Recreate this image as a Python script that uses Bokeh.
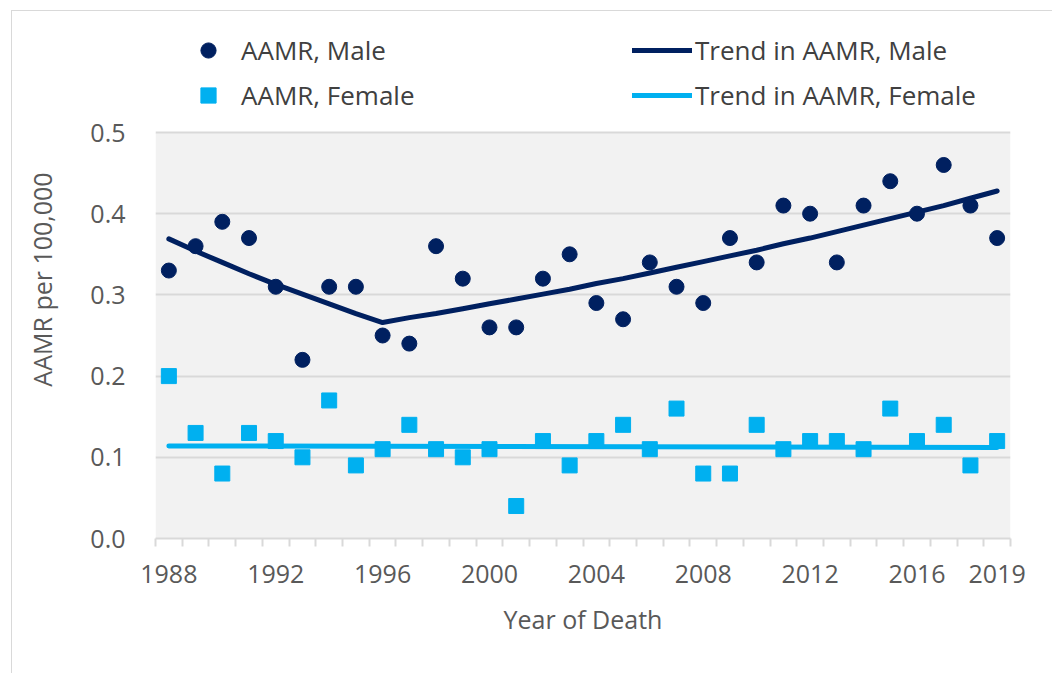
from bokeh.plotting import figure
from bokeh.models import (Range1d, FixedTicker, PrintfTickFormatter, Legend, LegendItem,
                          ColumnDataSource, BoxAnnotation)
from bokeh.embed import file_html
from bokeh.resources import INLINE

years = list(range(1988, 2020))
male_aamr = [0.33, 0.36, 0.39, 0.37, 0.31, 0.22, 0.31, 0.31, 0.25, 0.24, 0.36, 0.32,
             0.26, 0.26, 0.32, 0.35, 0.29, 0.27, 0.34, 0.31, 0.29, 0.37, 0.34, 0.41,
             0.40, 0.34, 0.41, 0.44, 0.40, 0.46, 0.41, 0.37]
female_aamr = [0.20, 0.13, 0.08, 0.13, 0.12, 0.10, 0.17, 0.09, 0.11, 0.14, 0.11, 0.10,
               0.11, 0.04, 0.12, 0.09, 0.12, 0.14, 0.11, 0.16, 0.08, 0.08, 0.14, 0.11,
               0.12, 0.12, 0.11, 0.16, 0.12, 0.14, 0.09, 0.12]
male_trend = [0.369, 0.354, 0.340, 0.326, 0.313, 0.301, 0.289, 0.277, 0.266, 0.272,
              0.277, 0.283, 0.289, 0.295, 0.301, 0.307, 0.314, 0.320, 0.327, 0.334,
              0.341, 0.348, 0.355, 0.363, 0.370, 0.378, 0.386, 0.394, 0.402, 0.410,
              0.419, 0.428]
female_trend_years = [1988, 2019]
female_trend = [0.114, 0.112]
x_tick_years = [1988, 1992, 1996, 2000, 2004, 2008, 2012, 2016, 2019]
y_ticks = [0.0, 0.1, 0.2, 0.3, 0.4, 0.5]

NAVY = "#002060"
CYAN = "#00B0F0"
GRID = "#d9d9d9"
TXT = "#595959"
FONT = "Open Sans"

# plot area 0..0.5 is 406px tall; the frame extends 112px above it to hold the legend
FRAME_H = 518
Y_TOP = y_ticks[-1] * FRAME_H / 406

p = figure(width=1040, height=662, output_backend="svg", toolbar_location=None,
           x_range=Range1d(years[0] - 0.5, years[-1] + 0.5), y_range=Range1d(0, Y_TOP),
           min_border_left=143, min_border_top=9, min_border_right=42, min_border_bottom=135,
           frame_width=855, frame_height=FRAME_H,
           margin=(10, 0, 0, 11),
           styles={"border-left": "1px solid #d9d9d9", "border-top": "1px solid #d9d9d9"})
p.background_fill_color = "white"
p.border_fill_color = "white"
p.outline_line_color = None

p.add_layout(BoxAnnotation(bottom=y_ticks[0], top=y_ticks[-1], fill_color="#f2f2f2",
                           fill_alpha=1, line_color=None, level="image"))

src = ColumnDataSource(dict(year=years, male=male_aamr, female=female_aamr, mtrend=male_trend))
r_mt = p.line("year", "mtrend", source=src, line_color=NAVY, line_width=5, line_cap="round")
r_ft = p.line(female_trend_years, female_trend, line_color=CYAN, line_width=5, line_cap="round")
r_m = p.scatter("year", "male", source=src, marker="circle", size=15, fill_color=NAVY,
                line_color=NAVY)
r_f = p.scatter("year", "female", source=src, marker="square", size=15, fill_color=CYAN,
                line_color=CYAN)

# axes
xa = p.xaxis[0]
xa.ticker = FixedTicker(ticks=x_tick_years, minor_ticks=[y - 0.5 for y in years] + [years[-1] + 0.5])
xa.axis_line_color = GRID
xa.axis_line_width = 2
xa.major_tick_line_color = None
xa.major_tick_out = 8
xa.major_tick_in = 0
xa.minor_tick_line_color = GRID
xa.minor_tick_line_width = 2
xa.minor_tick_out = 8
xa.minor_tick_in = 0
xa.major_label_standoff = 18
xa.axis_label = "Year of Death"
xa.axis_label_standoff = 16

ya = p.yaxis[0]
ya.ticker = FixedTicker(ticks=y_ticks)
ya.formatter = PrintfTickFormatter(format="%.1f")
ya.axis_line_color = None
ya.major_tick_line_color = None
ya.minor_tick_line_color = None
ya.major_tick_out = 0
ya.major_label_standoff = 30
ya.axis_label = "AAMR per 100,000"
ya.axis_label_standoff = 28

for ax in (xa, ya):
    ax.major_label_text_font = FONT
    ax.major_label_text_font_size = "25px"
    ax.major_label_text_color = TXT
    ax.axis_label_text_font = FONT
    ax.axis_label_text_font_size = "25px"
    ax.axis_label_text_font_style = "normal"
    ax.axis_label_text_color = TXT

p.xgrid.grid_line_color = None
p.ygrid.ticker = FixedTicker(ticks=y_ticks[1:])
p.ygrid.grid_line_color = GRID
p.ygrid.grid_line_width = 2

legend = Legend(items=[
    LegendItem(label="AAMR, Male", renderers=[r_m]),
    LegendItem(label="AAMR, Female", renderers=[r_f]),
    LegendItem(label="Trend in AAMR, Male", renderers=[r_mt]),
    LegendItem(label="Trend in AAMR, Female", renderers=[r_ft]),
], location=(23, 424), orientation="vertical", ncols=2)
legend.glyph_width = 60
legend.glyph_height = 38
legend.spacing = 7
legend.label_standoff = 3
legend.label_width = 384
legend.label_height = 38
legend.padding = 0
legend.margin = 0
legend.border_line_color = None
legend.background_fill_alpha = 0
legend.label_text_font = FONT
legend.label_text_font_size = "26px"
legend.label_text_color = "#404040"
p.add_layout(legend, "center")

open("out.html", "w").write(file_html(p, INLINE))
